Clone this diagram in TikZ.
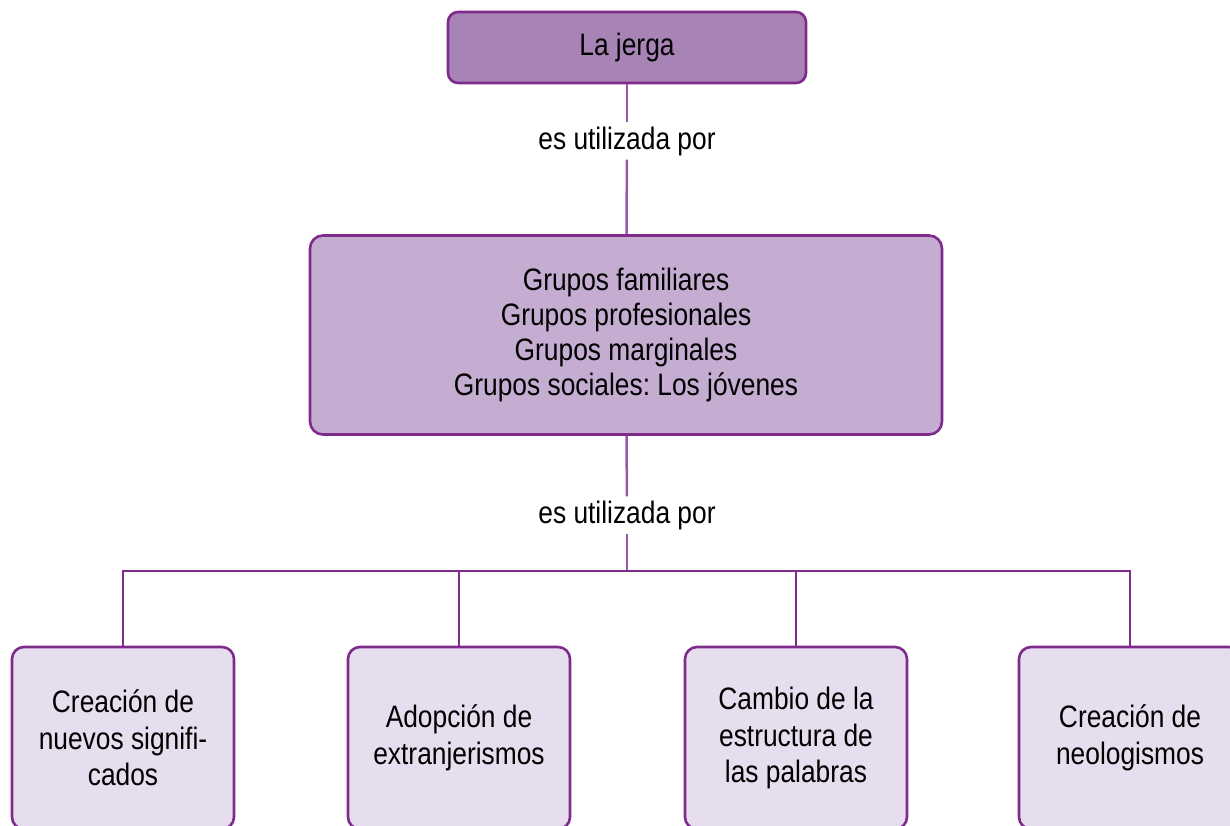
\documentclass[tikz,border=0pt]{standalone}
\usepackage{fontspec}
\setmainfont{Liberation Sans}[FakeStretch=0.85]
\frenchspacing
\definecolor{edgec}{HTML}{7E2B8C}
\definecolor{stemc}{HTML}{9A58A8}
\definecolor{topfill}{HTML}{A883B5}
\definecolor{midfill}{HTML}{C5ADD2}
\definecolor{botfill}{HTML}{E6DDEE}
\begin{document}
\begin{tikzpicture}[x=1pt,y=-1pt,
  box/.style={draw=edgec, line width=2.6pt, align=center, inner sep=0pt,
    font=\fontsize{31}{35}\selectfont},
  botbox/.style={box, fill=botfill, rounded corners=12pt, minimum width=222pt,
    minimum height=182pt, font=\fontsize{31}{36.5}\selectfont},
  conn/.style={draw=edgec, line width=2.5pt, line join=miter},
  stem/.style={draw=stemc, line width=2.5pt},
  lbl/.style={font=\fontsize{31}{35}\selectfont, inner sep=4pt}]
\useasboundingbox (0,0) rectangle (1230,826);
\node[box, fill=topfill, rounded corners=10pt, minimum width=358pt, minimum height=71pt] (top) at (627,47.5) {La jerga};
\node[box, fill=midfill, rounded corners=13pt, minimum width=632pt, minimum height=199pt] (mid) at (626,335)
  {Grupos familiares\\Grupos profesionales\\Grupos marginales\\Grupos sociales: Los jóvenes};
\node[lbl] (l1) at (627,141) {es utilizada por};
\node[lbl] (l2) at (627,515) {es utilizada por};
\node[botbox] (b1) at (123,738) {Creación de\\nuevos signifi-\\cados};
\node[botbox] (b2) at (459,738) {Adopción de\\extranjerismos};
\node[botbox] (b3) at (796,738) {Cambio de la\\estructura de\\las palabras};
\node[botbox] (b4) at (1130,738) {Creación de\\neologismos};
\coordinate (busC) at (627,571);
\draw[stem] (top) -- (l1);
\draw[stem] (l1) -- (mid);
\draw[stem] (mid) -- (l2);
\draw[stem] (l2) -- (busC);
\draw[conn] (b1.north) -- (b1.north |- busC) -- (b4.north |- busC) -- (b4.north);
\draw[conn] (b2.north) -- (b2.north |- busC);
\draw[conn] (b3.north) -- (b3.north |- busC);
\end{tikzpicture}
\end{document}
